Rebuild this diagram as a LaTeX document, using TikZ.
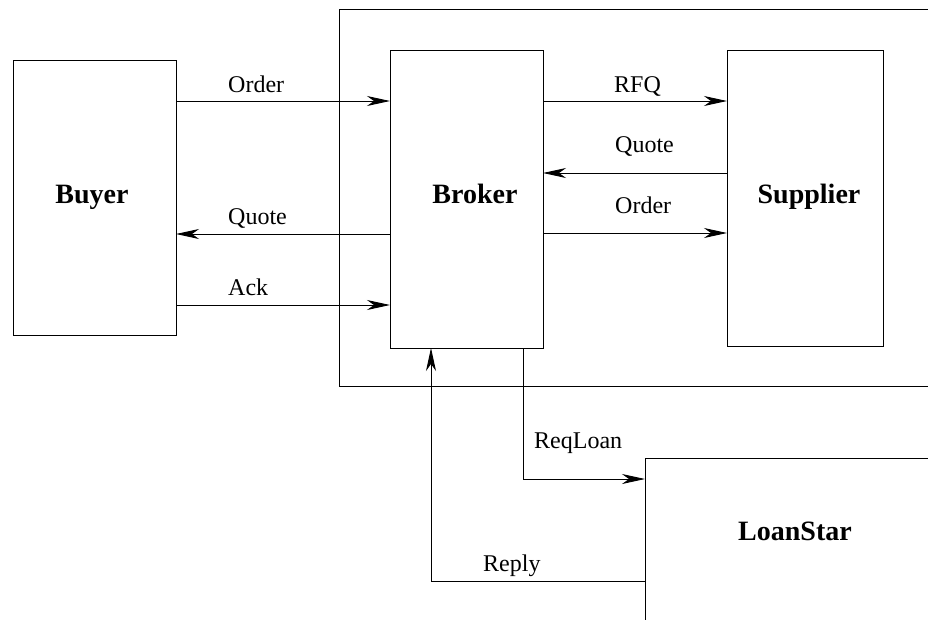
\documentclass[tikz,border=0pt]{standalone}
\usepackage{fontspec}
\setmainfont{Liberation Serif}
\usetikzlibrary{arrows.meta}
\begin{document}
\begin{tikzpicture}[x=1pt,y=-1pt,
  box/.style={draw, line width=0.9pt, inner sep=0pt},
  agent/.style={font=\fontsize{28}{30}\selectfont\bfseries, anchor=base, inner sep=0pt},
  msg/.style={font=\fontsize{24}{26}\selectfont, anchor=base west, inner sep=0pt},
  flow/.style={line width=0.9pt, -{Stealth[length=23pt,width=10pt,inset=7pt]}}]
\useasboundingbox (0,0) rectangle (928,619);
\begin{scope}
\clip (0,0) rectangle (928,619);
% agent boxes
\draw[box] (13,60) rectangle (176,335);
\draw[box] (339,9) rectangle (940,386);
\draw[box] (390,50) rectangle (543,348);
\draw[box] (727,50) rectangle (883,346);
\draw[box] (645,458) rectangle (940,640);
\end{scope}
\node[agent] (buyer) at (92,203) {Buyer};
\node[agent] (broker) at (475,203) {Broker};
\node[agent] (supplier) at (809,203) {Supplier};
\node[agent] (loan) at (795,540) {LoanStar};
% anchor points on the box edges
\coordinate (bu1) at (176,101);
\coordinate (bu2) at (176,234);
\coordinate (bu3) at (176,305);
\coordinate (brl1) at (390,101);
\coordinate (brl2) at (390,234);
\coordinate (brl3) at (390,305);
\coordinate (brr1) at (543,101);
\coordinate (brr2) at (543,173);
\coordinate (brr3) at (543,233);
\coordinate (su1) at (727,101);
\coordinate (su2) at (727,173);
\coordinate (su3) at (727,233);
\coordinate (brb1) at (523,348);
\coordinate (brb2) at (431,348);
\coordinate (ls1) at (645,479);
\coordinate (ls2) at (645,581);
% messages
\draw[flow] (bu1) -- (brl1);
\draw[flow] (brl2) -- (bu2);
\draw[flow] (bu3) -- (brl3);
\draw[flow] (brr1) -- (su1);
\draw[flow] (su2) -- (brr2);
\draw[flow] (brr3) -- (su3);
\draw[flow] (brb1) |- (ls1);
\draw[flow] (ls2) -| (brb2);
% message labels
\node[msg] (l1) at (228,92) {Order};
\node[msg] (l2) at (228,224) {Quote};
\node[msg] (l3) at (228,295) {Ack};
\node[msg] (l4) at (614,92) {RFQ};
\node[msg] (l5) at (615,152) {Quote};
\node[msg] (l6) at (615,213) {Order};
\node[msg] (l7) at (534,448) {ReqLoan};
\node[msg] (l8) at (483,571) {Reply};
\end{tikzpicture}
\end{document}
